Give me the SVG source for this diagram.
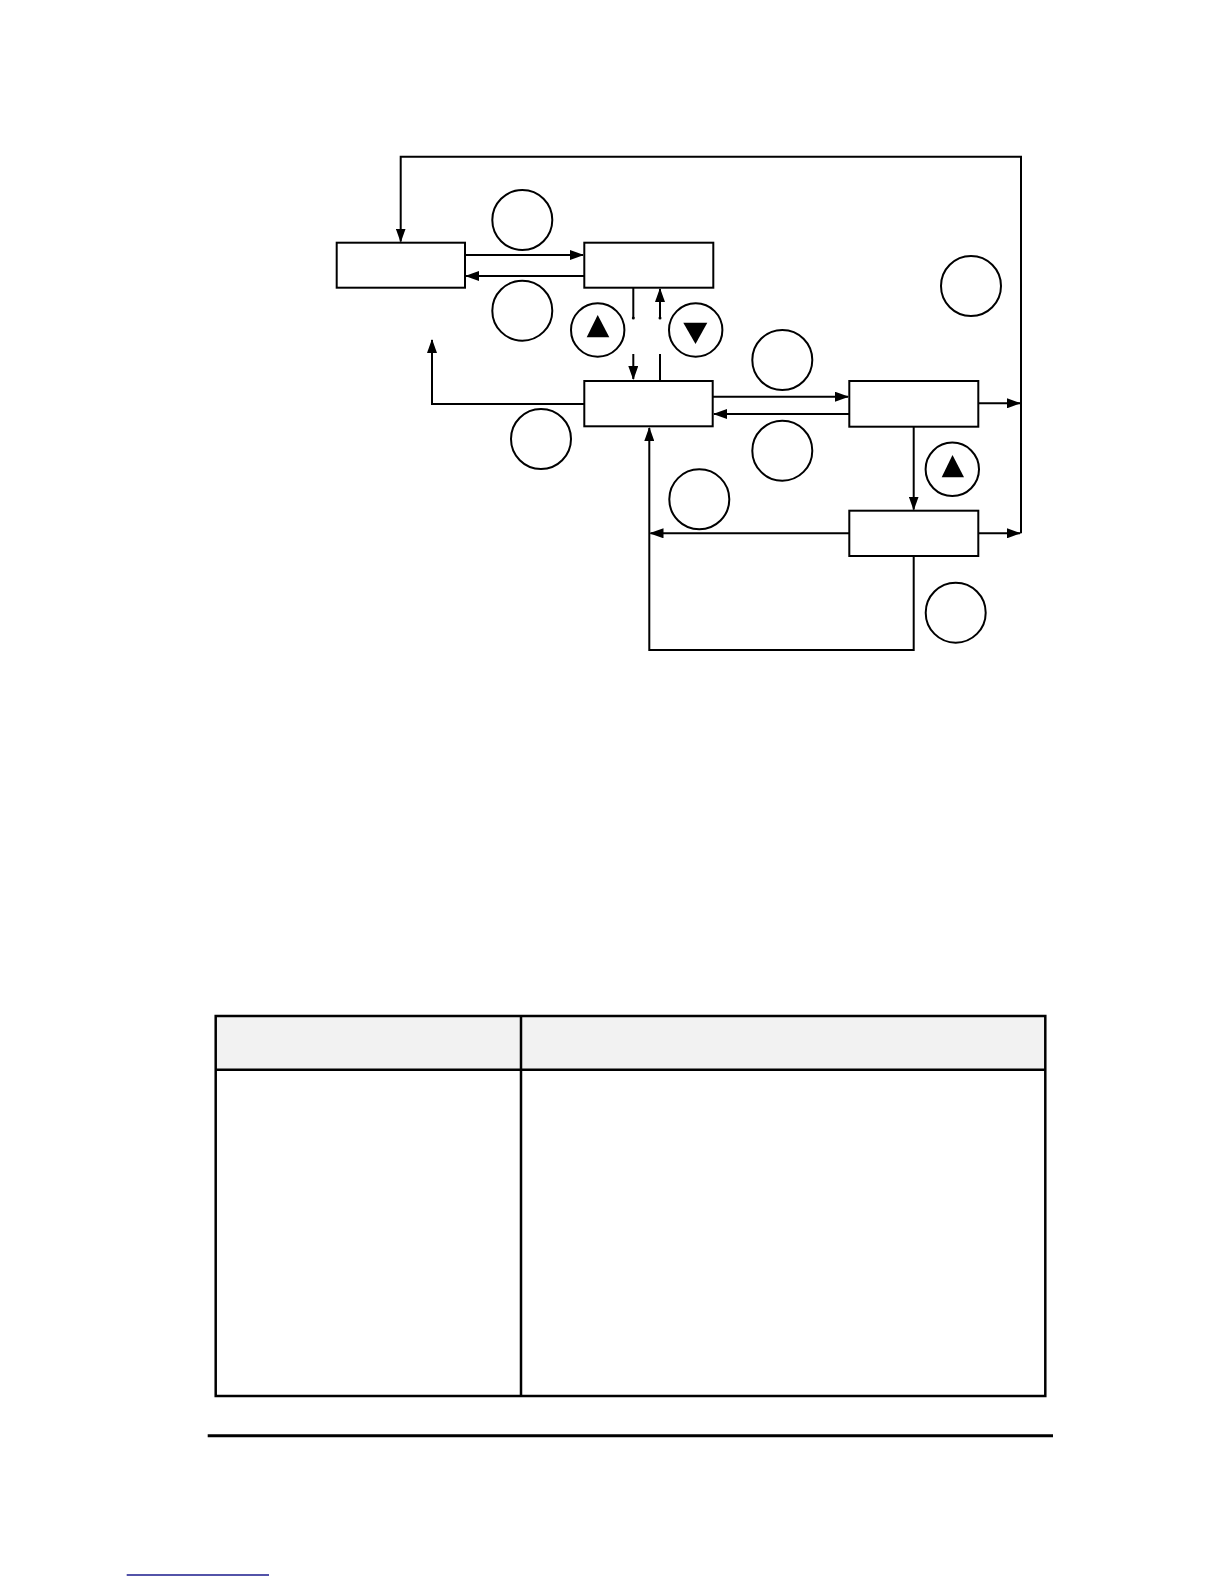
<svg xmlns="http://www.w3.org/2000/svg" width="1224" height="1584" viewBox="0 0 1224 1584">
<style>
.box{fill:#fff;stroke:#000;stroke-width:2}
.c{fill:#fff;stroke:#000;stroke-width:2}
.ln{fill:none;stroke:#000;stroke-width:2}
.tri{fill:#000}
.tb{fill:none;stroke:#000;stroke-width:2.5}
</style>
<defs>
<marker id="ah" markerUnits="userSpaceOnUse" markerWidth="14" markerHeight="10" refX="13" refY="5" orient="auto">
<path d="M0,0 L14,5 L0,10 Z" fill="#000"/>
</marker>
</defs>
<rect width="1224" height="1584" fill="#fff"/>
<g id="connectors">
<path class="ln" d="M1021,533.3 V156.7 H400.7 V241.5" marker-end="url(#ah)"/>
<path class="ln" d="M465,255 H583" marker-end="url(#ah)"/>
<path class="ln" d="M584,276 H466" marker-end="url(#ah)"/>
<path class="ln" d="M633.3,287.7 V318"/>
<circle cx="633.3" cy="318" r="1.5" fill="#000"/>
<path class="ln" d="M660,318 V289" marker-end="url(#ah)"/>
<circle cx="660" cy="318" r="1.5" fill="#000"/>
<path class="ln" d="M633.3,354 V379" marker-end="url(#ah)"/>
<path class="ln" d="M660,354 V380"/>
<path class="ln" d="M584,404 H432 V340" marker-end="url(#ah)"/>
<path class="ln" d="M712.7,396.7 H848" marker-end="url(#ah)"/>
<path class="ln" d="M849.3,414 H714" marker-end="url(#ah)"/>
<path class="ln" d="M978.3,403.3 H1020" marker-end="url(#ah)"/>
<path class="ln" d="M913.7,426.7 V509.5" marker-end="url(#ah)"/>
<path class="ln" d="M978.3,533.3 H1020" marker-end="url(#ah)"/>
<path class="ln" d="M849.3,533.3 H650.5" marker-end="url(#ah)"/>
<path class="ln" d="M913.7,556 V650 H649.3 V428" marker-end="url(#ah)"/>
</g>
<g id="node1"><rect class="box" x="336.7" y="242.7" width="128.3" height="45"/></g>
<g id="node2"><rect class="box" x="584.3" y="242.7" width="129" height="45"/></g>
<g id="node3"><rect class="box" x="584.3" y="381" width="128.4" height="45.3"/></g>
<g id="node4"><rect class="box" x="849.3" y="381" width="129" height="45.7"/></g>
<g id="node5"><rect class="box" x="849.3" y="510.7" width="129" height="45.3"/></g>
<g id="circles">
<circle class="c" cx="522.3" cy="220" r="30"/>
<circle class="c" cx="522.3" cy="310.7" r="30"/>
<circle class="c" cx="597.7" cy="330" r="26.7"/>
<polygon class="tri" points="597.7,315 609.3,337.3 586.7,337.3"/>
<circle class="c" cx="695.7" cy="330" r="26.7"/>
<polygon class="tri" points="683.3,322.7 707.3,322.7 695.5,344"/>
<circle class="c" cx="971" cy="286" r="30"/>
<circle class="c" cx="782.3" cy="360" r="30"/>
<circle class="c" cx="782.3" cy="450.7" r="30"/>
<circle class="c" cx="541" cy="439" r="30"/>
<circle class="c" cx="952.3" cy="469.3" r="26.7"/>
<polygon class="tri" points="952.5,455 964,477.3 941.7,477.3"/>
<circle class="c" cx="699.3" cy="499.3" r="30"/>
<circle class="c" cx="955.7" cy="612.7" r="30"/>
</g>
<g id="table">
<rect x="215.7" y="1016" width="829.6" height="53.7" fill="#f2f2f2"/>
<rect class="tb" x="215.7" y="1016" width="829.6" height="380"/>
<line class="tb" x1="215.7" y1="1069.7" x2="1045.3" y2="1069.7"/>
<line class="tb" x1="521" y1="1016" x2="521" y2="1396"/>
</g>
<g id="footer">
<line x1="207.7" y1="1435.7" x2="1053" y2="1435.7" stroke="#000" stroke-width="3"/>
<line x1="126.7" y1="1575" x2="269" y2="1575" stroke="#1a1a8c" stroke-width="1.5"/>
</g>
</svg>
